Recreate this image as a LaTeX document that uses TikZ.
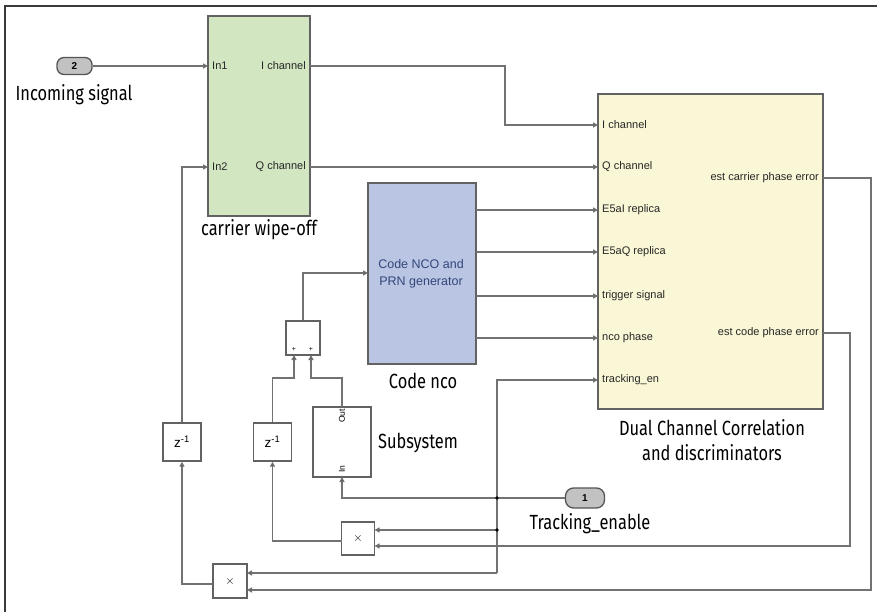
\documentclass[tikz,border=0pt]{standalone}
\usepackage{fontspec}
\setmainfont{Liberation Sans}
\newfontfamily\capfont[FakeStretch=0.8]{Fira Sans}
\usetikzlibrary{arrows.meta}

\definecolor{wirec}{HTML}{727272}
\definecolor{edgec}{HTML}{626262}
\definecolor{framec}{HTML}{3a3a3a}
\definecolor{greenfill}{HTML}{D3E6C2}
\definecolor{bluefill}{HTML}{B9C5E3}
\definecolor{yellowfill}{HTML}{FAF7D6}
\definecolor{portfill}{HTML}{C2C2C2}
\definecolor{portedge}{HTML}{555555}
\definecolor{ncotext}{HTML}{34467A}
\definecolor{porttext}{HTML}{262626}

\tikzset{
  wire/.style={draw=wirec, line width=1.4pt},
  arr/.style={wire, -{Triangle[length=5pt,width=5pt,fill=black]}},
  blk/.style={draw=edgec, line width=1.4pt, inner sep=0pt},
  smallblk/.style={blk, fill=white, minimum width=#1, minimum height=#1},
  inport/.style={draw=portedge, line width=1.3pt, fill=portfill, rounded corners=7pt,
    minimum width=35pt, minimum height=17pt, inner sep=0pt, font=\fontsize{10}{10}\selectfont\bfseries},
  portlbl/.style={font=\fontsize{11}{13}\selectfont, text=porttext, inner sep=0pt},
  caption/.style={font=\capfont\fontsize{20.5}{25}\selectfont, inner sep=0pt, align=center},
  jdot/.style={circle, fill=black, inner sep=0pt, minimum size=3.8pt}
}

\begin{document}
\begin{tikzpicture}[x=1pt,y=-1pt]
\fill[white] (0,0) rectangle (877,612);
\useasboundingbox (0,0) rectangle (877,612);

% window frame
\draw[framec, line width=2pt] (5,612) -- (5,6) -- (877,6);

% ---------- blocks ----------
\node[inport] (inp2) at (74.5,66) {2};
\node[caption, anchor=center] (inp2lbl) at (74,95) {Incoming signal};

\node[blk, fill=greenfill, minimum width=102pt, minimum height=200pt] (cwo) at (259,116) {};
\node[caption] (cwolbl) at (259,230) {carrier wipe-off};

\node[blk, fill=bluefill, minimum width=108pt, minimum height=181pt] (nco) at (422,273.5) {};
\node[font=\fontsize{12.5}{16.5}\selectfont, text=ncotext, align=center, inner sep=0pt] (ncotxt) at (421,274) {Code NCO and\\ PRN generator};
\node[caption] (ncolbl) at (423,381) {Code nco};

\node[blk, fill=yellowfill, minimum width=225pt, minimum height=315pt] (dcc) at (710.5,251.5) {};
\node[caption] (dcclbl) at (712,440) {Dual Channel Correlation\\ and discriminators};

\node[smallblk=34pt] (sum) at (303,338) {};
\node[font=\fontsize{7}{7}\selectfont, inner sep=0pt] (p1) at (294,349) {+};
\node[font=\fontsize{7}{7}\selectfont, inner sep=0pt] (p2) at (311,349) {+};

\node[smallblk=38pt, font=\fontsize{13.5}{13.5}\selectfont] (z1) at (182,442) {z\textsuperscript{-1}};
\node[smallblk=38pt, font=\fontsize{13.5}{13.5}\selectfont] (z2) at (272.5,442) {z\textsuperscript{-1}};

\node[blk, fill=white, minimum width=58pt, minimum height=70pt] (sub) at (342,442) {};
\node[font=\fontsize{8.5}{8.5}\selectfont, rotate=90, inner sep=0pt] (subout) at (342,416) {Out};
\node[font=\fontsize{8.5}{8.5}\selectfont, rotate=90, inner sep=0pt] (subin) at (342,469) {In};
\node[caption] (sublbl) at (418,443) {Subsystem};

\node[smallblk=33pt, font=\fontsize{12}{12}\selectfont] (prod1) at (358,538.5) {$\times$};
\node[smallblk=34pt, font=\fontsize{12}{12}\selectfont] (prod2) at (230,581) {$\times$};

\node[inport, minimum width=39pt, minimum height=20pt, rounded corners=8pt] (inp1) at (585,498) {1};
\node[caption] (inp1lbl) at (590,524) {Tracking\_enable};

% ---------- port positions ----------
\coordinate (cwo-in1) at (208,66);
\coordinate (cwo-in2) at (208,167);
\coordinate (cwo-iout) at (310,66);
\coordinate (cwo-qout) at (310,167);

\coordinate (dcc-i) at (598,125);
\coordinate (dcc-q) at (598,167);
\coordinate (dcc-e5ai) at (598,210);
\coordinate (dcc-e5aq) at (598,252);
\coordinate (dcc-trig) at (598,296);
\coordinate (dcc-nco) at (598,338);
\coordinate (dcc-ten) at (598,380);
\coordinate (dcc-carr) at (823,178);
\coordinate (dcc-code) at (823,333);

\coordinate (nco-o1) at (476,210);
\coordinate (nco-o2) at (476,252);
\coordinate (nco-o3) at (476,296);
\coordinate (nco-o4) at (476,338);
\coordinate (nco-in) at (368,273);

\coordinate (sum-in1) at (294,355);
\coordinate (sum-in2) at (311,355);
\coordinate (sumfork1) at (272.5,378);
\coordinate (sumfork2) at (342,378);

\coordinate (sub-in) at (342,477);
\coordinate (sub-out) at (342,407);

\coordinate (prod1-in1) at (374.5,530);
\coordinate (prod1-in2) at (374.5,546);
\coordinate (prod1-out) at (341.5,541);
\coordinate (prod2-in1) at (247,573);
\coordinate (prod2-in2) at (247,590);
\coordinate (prod2-out) at (213,584);

\coordinate (j1) at (497,498);
\coordinate (j2) at (497,530);
\coordinate (jbot) at (497,573);
\coordinate (ibend) at (505,66);
\coordinate (carrcorner) at (871,590);
\coordinate (codecorner) at (850,546);

% ---------- port labels ----------
\node[portlbl, anchor=west] at (212,66) {In1};
\node[portlbl, anchor=west] at (212,167) {In2};
\node[portlbl, anchor=east] at (306,66) {I channel};
\node[portlbl, anchor=east] at (306,167) {Q channel};

\node[portlbl, anchor=west] at (602,125) {I channel};
\node[portlbl, anchor=west] at (602,167) {Q channel};
\node[portlbl, anchor=west] at (602,210) {E5aI replica};
\node[portlbl, anchor=west] at (602,252) {E5aQ replica};
\node[portlbl, anchor=west] at (602,296) {trigger signal};
\node[portlbl, anchor=west] at (602,338) {nco phase};
\node[portlbl, anchor=west] at (602,380) {tracking\_en};
\node[portlbl, anchor=east] at (819,178) {est carrier phase error};
\node[portlbl, anchor=east] at (819,333) {est code phase error};

% ---------- connectors ----------
\draw[arr] (inp2.east |- cwo-in1) -- (cwo-in1);
\draw[arr] (cwo-iout) -- (ibend) |- (dcc-i);
\draw[arr] (cwo-qout) -- (dcc-q);

\draw[arr] (nco-o1) -- (dcc-e5ai);
\draw[arr] (nco-o2) -- (dcc-e5aq);
\draw[arr] (nco-o3) -- (dcc-trig);
\draw[arr] (nco-o4) -- (dcc-nco);

\draw[arr] (sum.north) |- (nco-in);
\draw[arr] (z2.north) |- (sumfork1) -| (sum-in1);
\draw[arr] (sub-out) -- (sumfork2) -| (sum-in2);

\draw[arr] (z1.north) |- (cwo-in2);

\draw[arr] (inp1.west) -- (j1) -| (sub-in);
\draw[arr] (jbot) |- (dcc-ten);
\draw[arr] (jbot) -- (prod2-in1);
\draw[arr] (j2) -- (prod1-in1);

\draw[arr] (dcc-code) -| (codecorner) -- (prod1-in2);
\draw[arr] (dcc-carr) -| (carrcorner) -- (prod2-in2);

\draw[arr] (prod1-out) -| (z2.south);
\draw[arr] (prod2-out) -| (z1.south);

\node[jdot] at (j1) {};
\node[jdot] at (j2) {};
\end{tikzpicture}
\end{document}
